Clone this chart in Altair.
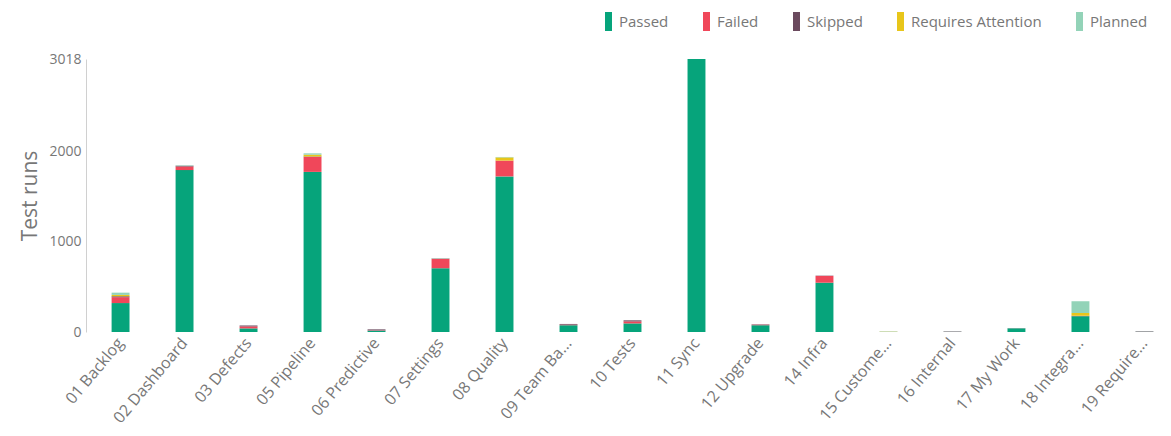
import altair as alt
import pandas as pd

categories = ["01 Backlog", "02 Dashboard", "03 Defects", "05 Pipeline", "06 Predictive",
              "07 Settings", "08 Quality", "09 Team Ba...", "10 Tests", "11 Sync",
              "12 Upgrade", "14 Infra", "15 Custome...", "16 Internal", "17 My Work",
              "18 Integra...", "19 Require..."]
passed    = [320, 1790, 40, 1770, 15, 705, 1720, 75, 95, 3018, 75, 545, 0, 2, 40, 175, 3]
failed    = [65, 40, 22, 165, 4, 105, 175, 6, 22, 0, 6, 75, 0, 1, 0, 5, 1]
skipped   = [10, 8, 10, 5, 10, 2, 0, 8, 12, 0, 4, 3, 1, 4, 2, 0, 4]
attention = [15, 0, 0, 20, 0, 0, 35, 0, 0, 0, 0, 0, 3, 0, 0, 30, 0]
planned   = [25, 5, 0, 15, 0, 5, 5, 0, 0, 0, 0, 0, 4, 1, 0, 130, 0]

statuses = ["Passed", "Failed", "Skipped", "Requires Attention", "Planned"]
colors = ["#06a47b", "#f0475a", "#6b4a5e", "#e8c61a", "#93d3b8"]
y_ticks = [0, 1000, 2000, 3018]

rows = []
for s_i, (s, vals) in enumerate(zip(statuses, [passed, failed, skipped, attention, planned])):
    for c, v in zip(categories, vals):
        rows.append({"category": c, "status": s, "runs": v, "rank": s_i})
df = pd.DataFrame(rows)

grey = "#777777"
font = "Open Sans"

chart = alt.Chart(df).mark_bar().encode(
    x=alt.X("category:N", sort=categories, title=None,
            scale=alt.Scale(paddingInner=0.72, paddingOuter=0.15),
            axis=alt.Axis(labelAngle=-50, domain=False, ticks=False, labelPadding=8,
                          labelFontSize=16, labelColor=grey, labelFont=font)),
    y=alt.Y("runs:Q", stack="zero", title="Test runs",
            scale=alt.Scale(domain=[0, 3018], nice=False),
            axis=alt.Axis(values=y_ticks, format="d", grid=False, ticks=False,
                          domainColor="#d0d0d0", offset=16, labelPadding=5,
                          labelFontSize=14, labelColor=grey, labelFont=font,
                          titleFont=font, titleFontSize=21, titleFontWeight="normal",
                          titleColor=grey, titlePadding=8)),
    color=alt.Color("status:N", sort=statuses,
                    scale=alt.Scale(domain=statuses, range=colors),
                    legend=alt.Legend(title=None, orient="none", direction="horizontal",
                                      legendX=497, legendY=-47,
                                      symbolType="M-0.37,-1 L0.37,-1 L0.37,1 L-0.37,1 Z",
                                      symbolSize=361, symbolStrokeWidth=0, symbolOpacity=1,
                                      labelFontSize=15, labelColor=grey, labelFont=font,
                                      labelOffset=1, columnPadding=28)),
    order=alt.Order("rank:Q"),
).properties(
    width=1061, height=273,
    autosize=alt.AutoSizeParams(type="none"),
    padding={"left": 94, "top": 51, "right": 0, "bottom": 100},
).configure_view(stroke=None)

chart.save("out.html", embed_options={"renderer": "svg", "actions": False})
